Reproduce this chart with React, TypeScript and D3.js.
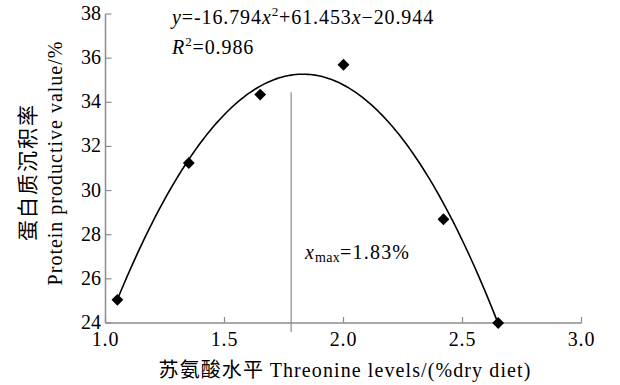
import React from "react";
import * as d3 from "d3";

// threonine level (% dry diet) and protein productive value (%)
const levels = [1.05, 1.35, 1.65, 2.0, 2.42, 2.65];
const ppv = [25.05, 31.25, 34.35, 35.7, 28.7, 24.0];
// fitted quadratic y = a*x^2 + b*x + c
const coef = [-16.794, 61.453, -20.944];
const xMax = 1.78;
const xTicks = [1.0, 1.5, 2.0, 2.5, 3.0];
const yTicks = [24, 26, 28, 30, 32, 34, 36, 38];

const W = 620;
const H = 385;
const font = "'Liberation Serif', 'Times New Roman', serif";
const cjk = "'Noto Sans CJK SC', sans-serif";
const axisColor = "#8c8c8c";

export default function App() {
  const x = d3.scaleLinear().domain([1, 3]).range([105.5, 581.5]);
  const y = d3.scaleLinear().domain([24, 38]).range([323, 14]);

  const fit = (v: number) => coef[0] * v * v + coef[1] * v + coef[2];
  const fitXs = d3.range(levels[0], levels[levels.length - 1] + 0.0001, 0.01);
  const line = d3
    .line<number>()
    .x((d) => x(d))
    .y((d) => y(fit(d)));

  const diamond = d3.symbol(d3.symbolSquare, 70)();

  return (
    <svg
      width={W}
      height={H}
      style={{ position: "absolute", left: 0, top: 0, background: "#fff" }}
    >
      {/* axes */}
      <line x1={x(1)} x2={x(3)} y1={y(24)} y2={y(24)} stroke={axisColor} strokeWidth={1.5} />
      <line x1={x(1)} x2={x(1)} y1={y(24)} y2={y(38)} stroke={axisColor} strokeWidth={1.5} />
      {xTicks.map((t) => (
        <g key={"x" + t}>
          <line x1={x(t)} x2={x(t)} y1={y(24)} y2={y(24) - 6} stroke={axisColor} strokeWidth={1.2} />
          <text x={x(t)} y={346} textAnchor="middle" fontFamily={font} fontSize={20} letterSpacing={0.8}>
            {t.toFixed(1)}
          </text>
        </g>
      ))}
      {yTicks.map((t) => (
        <g key={"y" + t}>
          <line x1={x(1)} x2={x(1) + 6} y1={y(t)} y2={y(t)} stroke={axisColor} strokeWidth={1.2} />
          <text x={101} y={y(t) + 6} textAnchor="end" fontFamily={font} fontSize={20}>
            {t}
          </text>
        </g>
      ))}

      {/* x max marker */}
      <line x1={x(xMax)} x2={x(xMax)} y1={y(34.45)} y2={y(24) + 9} stroke={axisColor} strokeWidth={1.2} />
      <text x={305} y={259} fontFamily={font} fontSize={20} letterSpacing={1.2}>
        <tspan fontStyle="italic">x</tspan>
        <tspan fontSize={14} dy={3} letterSpacing={0.3}>max</tspan>
        <tspan dy={-3}>=1.83%</tspan>
      </text>

      {/* fitted curve */}
      <path d={line(fitXs) ?? ""} fill="none" stroke="#000" strokeWidth={1.6} />

      {/* points */}
      {levels.map((lv, i) => (
        <path
          key={i}
          d={diamond ?? ""}
          transform={`translate(${x(lv)},${y(ppv[i])}) rotate(45)`}
          fill="#000"
        />
      ))}

      {/* equation */}
      <text x={172} y={24} fontFamily={font} fontSize={20} letterSpacing={0.9}>
        <tspan fontStyle="italic">y</tspan>
        <tspan>=-16.794</tspan>
        <tspan fontStyle="italic">x</tspan>
        <tspan fontSize={13} dy={-8}>2</tspan>
        <tspan dy={8}>+61.453</tspan>
        <tspan fontStyle="italic">x</tspan>
        <tspan>−20.944</tspan>
      </text>
      <text x={172} y={54} fontFamily={font} fontSize={20} letterSpacing={0.9}>
        <tspan fontStyle="italic">R</tspan>
        <tspan fontSize={13} dy={-8}>2</tspan>
        <tspan dy={8}>=0.986</tspan>
      </text>

      {/* axis titles */}
      <text x={345} y={377} textAnchor="middle" fontSize={20} letterSpacing={1.1}>
        <tspan fontFamily={cjk}>苏氨酸水平 </tspan>
        <tspan fontFamily={font}>Threonine levels/(%dry diet)</tspan>
      </text>
      <text
        transform={`translate(35,172) rotate(-90)`}
        textAnchor="middle"
        fontFamily={cjk}
        fontSize={21}
        letterSpacing={2}
      >
        蛋白质沉积率
      </text>
      <text
        transform={`translate(62,163) rotate(-90)`}
        textAnchor="middle"
        fontFamily={font}
        fontSize={20}
        letterSpacing={1}
      >
        Protein productive value/%
      </text>
    </svg>
  );
}
